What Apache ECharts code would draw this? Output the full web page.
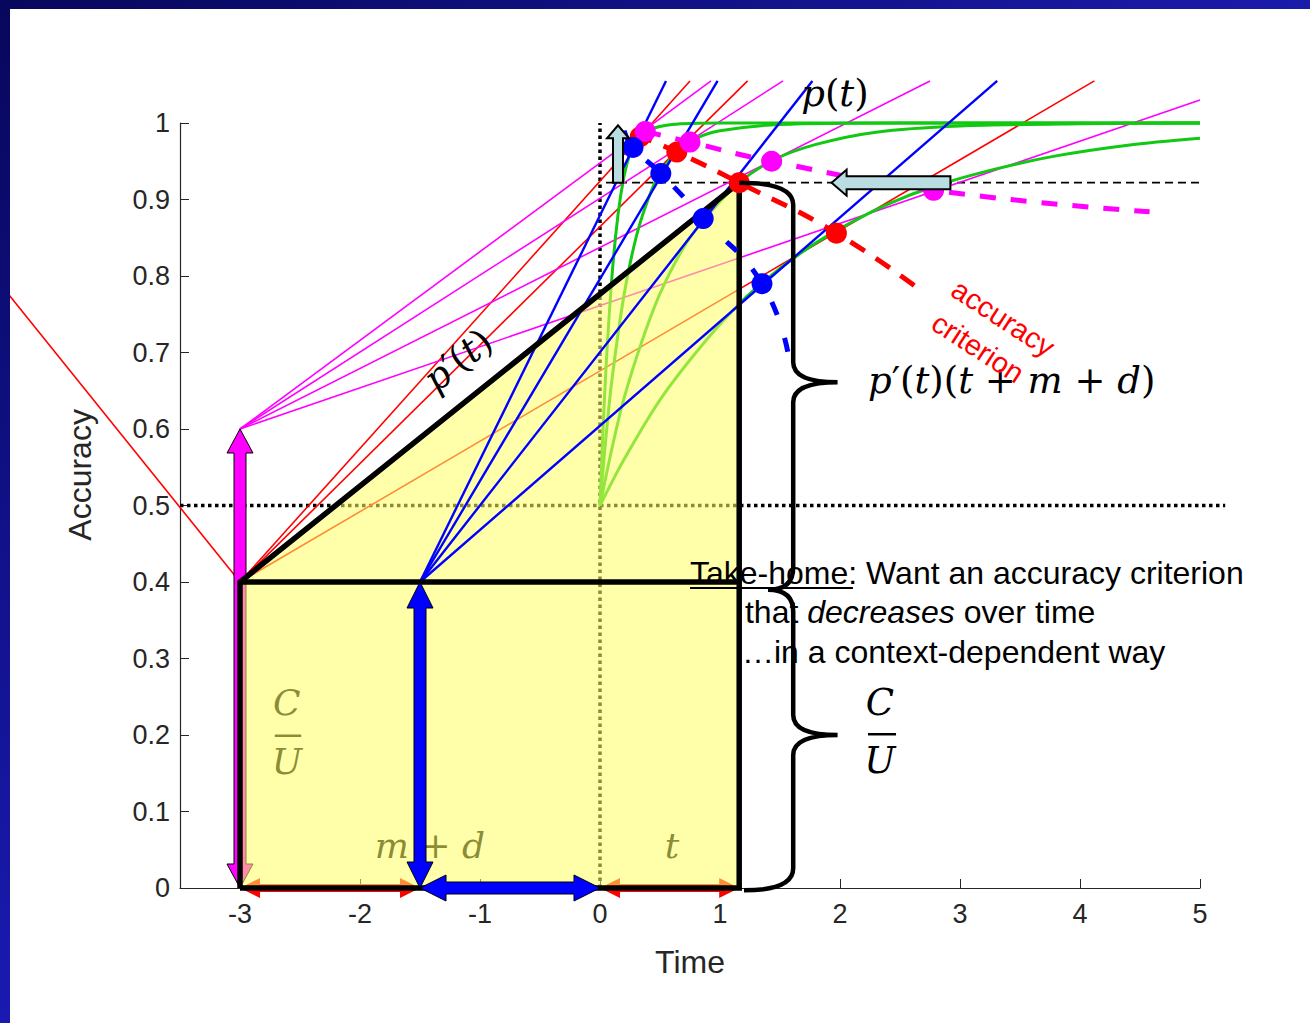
<!DOCTYPE html>
<html lang="en">
<head>
<meta charset="UTF-8">
<title>accuracy criterion</title>
<script src="https://cdn.jsdelivr.net/npm/echarts@6.0.0/dist/echarts.min.js"></script>
<style>
  html, body { margin: 0; padding: 0; background: #fff; }
  #main { width: 1310px; height: 1023px; }
</style>
</head>
<body>
<div id="main"></div>
<script>
// ---- values ----
var xTicks = [-3, -2, -1, 0, 1, 2, 3, 4, 5];
var yTicks = [0, 0.1, 0.2, 0.3, 0.4, 0.5, 0.6, 0.7, 0.8, 0.9, 1];

// accuracy curves p(t), all starting at chance (0, 0.5)
var curveFast = [[0, 0.5], [0.02, 0.58], [0.05, 0.68], [0.1, 0.8], [0.15, 0.88], [0.2, 0.93], [0.25, 0.96], [0.3, 0.975], [0.4, 0.99], [0.6, 0.998], [1, 1], [5, 1]];
var curveMid = [[0, 0.5], [0.05, 0.59], [0.1, 0.665], [0.2, 0.775], [0.3, 0.85], [0.4, 0.9], [0.5, 0.935], [0.65, 0.963], [0.8, 0.98], [1, 0.99], [1.5, 0.998], [2.5, 1], [5, 1]];
var curveSlow = [[0, 0.5], [0.1, 0.575], [0.2, 0.64], [0.35, 0.715], [0.5, 0.777], [0.7, 0.838], [0.88, 0.876], [1.16, 0.922], [1.45, 0.952], [1.8, 0.972], [2.3, 0.988], [3, 0.996], [4, 0.999], [5, 1]];
var curveSlowest = [[0, 0.5], [0.2, 0.56], [0.5, 0.638], [0.8, 0.7], [1.1, 0.754], [1.35, 0.791], [1.7, 0.833], [2, 0.862], [2.4, 0.894], [2.8, 0.918], [3.3, 0.94], [3.8, 0.957], [4.4, 0.971], [5, 0.98]];

// tangent lines: common start point and the far ends
var redFrom = [-3, 0.4];
var magentaFrom = [-3, 0.6];
var blueFrom = [-1.5, 0.4];
var redEnds = [[0.75, 1.055], [1.23, 1.055], [4.12, 1.055], [-5, 0.79]];
var magentaEnds = [[0.925, 1.055], [1.525, 1.055], [2.75, 1.055], [5, 1.03]];
var blueEnds = [[0.55, 1.055], [0.98, 1.055], [1.77, 1.055], [3.31, 1.055]];

// tangent points
var redDots = [[0.335, 0.982], [0.64, 0.962], [1.16, 0.922], [1.97, 0.856]];
var magentaDots = [[0.377, 0.989], [0.75, 0.975], [1.43, 0.95], [2.78, 0.912]];
var blueDots = [[0.275, 0.968], [0.507, 0.934], [0.86, 0.875], [1.35, 0.79]];

// accuracy criterion curves through the tangent points
var redCriterion = [[0.3, 0.985], [0.64, 0.962], [1.16, 0.922], [1.97, 0.856], [2.7, 0.778]];
var magentaCriterion = [[0.377, 0.989], [0.75, 0.975], [1.43, 0.95], [2.78, 0.912], [4.58, 0.884]];
var blueCriterion = [[0.2, 0.99], [0.275, 0.968], [0.507, 0.934], [0.86, 0.875], [1.35, 0.79], [1.57, 0.697]];

// cost triangle / rectangle
var costSlope = [[-3, 0.4], [1.16, 0.922]];
var costFrame = [[-3, 0], [-3, 0.4], [1.16, 0.922], [1.16, 0], [-3, 0]];
var costBase = [[-3, 0.4], [1.16, 0.4]];

var RED = '#ff0000', MAG = '#ff00ff', BLUE = '#0000ff', GREEN = '#12c812';
var AXIS = '#262626';
var MATH = "'DejaVu Serif', 'Liberation Serif', serif";
var SANS = "'Liberation Sans', Arial, sans-serif";

function plain(data, color, width, z, dash, smooth) {
  return {
    type: 'line', data: data, showSymbol: false, symbol: 'none', clip: false, silent: true,
    z: z, smooth: smooth || false, animation: false,
    lineStyle: { color: color, width: width, type: dash || 'solid', join: 'miter' }
  };
}

// straight segment that may run past the axis range
function segment(a, b, color, width, z, dash) {
  return {
    type: 'custom', coordinateSystem: 'cartesian2d', z: z, silent: true, animation: false,
    data: [[a[0], a[1], b[0], b[1]]],
    renderItem: function (params, api) {
      var p1 = api.coord([api.value(0), api.value(1)]);
      var p2 = api.coord([api.value(2), api.value(3)]);
      return {
        type: 'line', shape: { x1: p1[0], y1: p1[1], x2: p2[0], y2: p2[1] },
        style: { stroke: color, lineWidth: width, lineDash: dash || null }
      };
    }
  };
}

function dots(data, color, z) {
  return {
    type: 'scatter', data: data, symbolSize: 21, z: z, silent: true, clip: false, animation: false,
    itemStyle: { color: color, opacity: 1 }
  };
}

function arrow(from, to, color, shaft, head, headLen, both, z, stroke, strokeW) {
  return {
    type: 'custom', coordinateSystem: 'cartesian2d', z: z, silent: true, animation: false,
    data: [[from[0], from[1], to[0], to[1]]],
    renderItem: function (params, api) {
      var p1 = api.coord([api.value(0), api.value(1)]);
      var p2 = api.coord([api.value(2), api.value(3)]);
      var dx = p2[0] - p1[0], dy = p2[1] - p1[1];
      var len = Math.sqrt(dx * dx + dy * dy);
      var ux = dx / len, uy = dy / len, nx = -uy, ny = ux;
      function pt(b, a, s) { return [b[0] + ux * a + nx * s, b[1] + uy * a + ny * s]; }
      var pts;
      if (both) {
        pts = [p1, pt(p1, headLen, head), pt(p1, headLen, shaft), pt(p2, -headLen, shaft), pt(p2, -headLen, head), p2,
          pt(p2, -headLen, -head), pt(p2, -headLen, -shaft), pt(p1, headLen, -shaft), pt(p1, headLen, -head)];
      } else {
        pts = [pt(p1, 0, shaft), pt(p2, -headLen, shaft), pt(p2, -headLen, head), p2,
          pt(p2, -headLen, -head), pt(p2, -headLen, -shaft), pt(p1, 0, -shaft)];
      }
      return {
        type: 'polygon', shape: { points: pts },
        style: { fill: color, stroke: stroke || null, lineWidth: strokeW || 1 }
      };
    }
  };
}

// right curly brace from one end to the other, with its tip and spine
function brace(endA, endB, tip, spineX, z) {
  return {
    type: 'custom', coordinateSystem: 'cartesian2d', z: z, silent: true, animation: false,
    data: [[endA[0], endA[1], endB[0], endB[1], tip[0], tip[1], spineX]],
    renderItem: function (params, api) {
      var a = api.coord([api.value(0), api.value(1)]);
      var b = api.coord([api.value(2), api.value(3)]);
      var t = api.coord([api.value(4), api.value(5)]);
      var sx = api.coord([api.value(6), api.value(5)])[0];
      var r = 22, q = 20;
      var d = 'M' + a[0] + ',' + a[1] +
        ' Q' + sx + ',' + a[1] + ' ' + sx + ',' + (a[1] + r) +
        ' L' + sx + ',' + (t[1] - q) +
        ' Q' + sx + ',' + t[1] + ' ' + t[0] + ',' + t[1] +
        ' Q' + sx + ',' + t[1] + ' ' + sx + ',' + (t[1] + q) +
        ' L' + sx + ',' + (b[1] - r) +
        ' Q' + sx + ',' + b[1] + ' ' + b[0] + ',' + b[1];
      return {
        type: 'path', shape: { pathData: d },
        style: { fill: null, stroke: '#000', lineWidth: 4.5 }
      };
    }
  };
}

function note(at, text, style, rotate, z) {
  return {
    type: 'custom', coordinateSystem: 'cartesian2d', z: z || 20, silent: true, animation: false,
    data: [[at[0], at[1]]],
    renderItem: function (params, api) {
      var p = api.coord([api.value(0), api.value(1)]);
      return {
        type: 'text', x: p[0], y: p[1], rotation: (rotate || 0) * Math.PI / 180,
        style: Object.assign({ text: text, align: 'center', verticalAlign: 'middle' }, style)
      };
    }
  };
}

function mathStyle(size, color) {
  return {
    fontFamily: MATH, fontSize: size, fill: color || '#000',
    rich: { i: { fontFamily: MATH, fontSize: size, fontStyle: 'italic', fill: color || '#000' } }
  };
}

var series = [];

// dotted / dashed guides
series.push(segment([-3.5, 0.5], [5.21, 0.5], '#000', 3.5, 1, [3.5, 3.5]));
series.push(segment([0, 0], [0, 1], '#000', 3.5, 1, [3.5, 3.5]));
series.push(segment([0.05, 0.922], [5, 0.922], '#000', 1.6, 1, [8, 5]));

// accuracy curves
[curveFast, curveMid, curveSlow, curveSlowest].forEach(function (c) {
  series.push(plain(c, GREEN, 3, 2, 'solid', 0.3));
});

// red and magenta tangent lines (under the shaded region)
redEnds.forEach(function (e) { series.push(segment(redFrom, e, RED, 1.6, 2)); });
magentaEnds.forEach(function (e) { series.push(segment(magentaFrom, e, MAG, 1.6, 2)); });

// arrows lying under the shading
series.push(arrow([-3, 0], [-3, 0.6], MAG, 6, 13, 24, true, 2, '#000', 1));
series.push(arrow([-3, 0], [-1.5, 0], RED, 4, 10, 20, true, 2));
series.push(arrow([0, 0], [1.16, 0], RED, 4, 10, 20, true, 2));

// olive labels (black under the shading)
series.push(note([-2.61, 0.242], '{i|C}', mathStyle(36), 0, 2));
series.push(note([-2.61, 0.165], '{i|U}', mathStyle(36), 0, 2));
series.push(segment([-2.71, 0.199], [-2.49, 0.199], '#000', 2.5, 2));
series.push(note([-1.417, 0.056], '{i|m} + {i|d}', mathStyle(36), 0, 2));
series.push(note([0.6, 0.056], '{i|t}', mathStyle(36), 0, 2));

// shaded cost region
series.push({
  type: 'line', data: costSlope, showSymbol: false, symbol: 'none', z: 3, silent: true, animation: false,
  lineStyle: { width: 0 }, areaStyle: { color: 'rgba(255,255,100,0.55)', origin: 'start', opacity: 1 }
});

// blue tangent lines
blueEnds.forEach(function (e) { series.push(segment(blueFrom, e, BLUE, 2.4, 4)); });

// cost frame
series.push(plain(costFrame, '#000', 5.5, 5));
series.push(plain(costBase, '#000', 5.5, 5));

// criterion curves
series.push(plain(redCriterion, RED, 5, 6, [17, 13], true));
series.push(plain(magentaCriterion, MAG, 5, 6, [16, 15], true));
series.push(plain(blueCriterion, BLUE, 5, 6, [14, 24], true));

// tangent points
series.push(dots(redDots, RED, 7));
series.push(dots(magentaDots, MAG, 7));
series.push(dots(blueDots, BLUE, 7));

// arrows on top
series.push(arrow([-1.5, 0], [-1.5, 0.4], BLUE, 6, 13, 26, true, 8, '#000', 1));
series.push(arrow([-1.5, 0], [0, 0], BLUE, 6, 13, 26, true, 8, '#000', 1));
series.push(arrow([0.15, 0.922], [0.15, 0.997], '#b9dde1', 5, 11, 13, false, 8, '#000', 2));
series.push(arrow([2.92, 0.922], [1.93, 0.922], '#b9dde1', 6.5, 13, 15, false, 8, '#000', 2));

// braces
series.push(brace([1.16, 0.922], [1.4, 0.39], [1.98, 0.661], 1.61, 8));
series.push(brace([1.4, 0.39], [1.2, -0.003], [1.98, 0.2], 1.61, 8));

// labels
series.push(note([1.958, 1.039], '{i|p}({i|t})', mathStyle(37), 0));
series.push(note([-1.183, 0.69], '{i|p}′({i|t})', mathStyle(37), 38.8));
series.push(note([2.233, 0.664], '{i|p}′({i|t})({i|t} + {i|m} + {i|d})', Object.assign(mathStyle(37), { align: 'left' }), 0));
series.push(note([2.333, 0.242], '{i|C}', mathStyle(37), 0));
series.push(note([2.333, 0.167], '{i|U}', mathStyle(37), 0));
series.push(segment([2.233, 0.201], [2.467, 0.201], '#000', 2.5, 9));
series.push(note([3.36, 0.745], 'accuracy', { fontFamily: SANS, fontSize: 29, fill: RED }, -33));
series.push(note([3.15, 0.706], 'criterion', { fontFamily: SANS, fontSize: 29, fill: RED }, -33));
series.push(note([0.75, 0.412], 'Take-home: Want an accuracy criterion', { fontFamily: SANS, fontSize: 32, fill: '#000', align: 'left' }, 0));
series.push(segment([0.75, 0.392], [2.108, 0.392], '#000', 2, 9));
series.push(note([1.208, 0.361], 'that {it|decreases} over time', {
  fontFamily: SANS, fontSize: 32, fill: '#000', align: 'left',
  rich: { it: { fontFamily: SANS, fontSize: 32, fontStyle: 'italic', fill: '#000' } }
}, 0));
series.push(note([1.183, 0.308], '…in a context-dependent way', { fontFamily: SANS, fontSize: 32, fill: '#000', align: 'left' }, 0));
series.push(note([-4.333, 0.54], 'Accuracy', { fontFamily: SANS, fontSize: 32, fill: AXIS }, 90));

var chart = echarts.init(document.getElementById('main'), null, { renderer: 'svg' });
chart.setOption({
  animation: false,
  backgroundColor: '#fff',
  grid: { left: 180, right: 110, top: 123, bottom: 135, containLabel: false, outerBoundsMode: 'none' },
  xAxis: {
    type: 'value', min: -3.5, max: 5,
    name: 'Time', nameLocation: 'middle', nameGap: 58,
    nameTextStyle: { fontFamily: SANS, fontSize: 32, color: AXIS },
    axisLine: { onZero: false, lineStyle: { color: AXIS, width: 1.2 } },
    axisTick: { inside: true, length: 9, customValues: xTicks, lineStyle: { color: AXIS } },
    axisLabel: { customValues: xTicks, fontFamily: SANS, fontSize: 27, color: AXIS, margin: 12 },
    splitLine: { show: false }
  },
  yAxis: {
    type: 'value', min: 0, max: 1,
    axisLine: { show: true, onZero: false, lineStyle: { color: AXIS, width: 1.2 } },
    axisTick: { show: true, inside: true, length: 9, customValues: yTicks, lineStyle: { color: AXIS } },
    axisLabel: {
      customValues: yTicks, fontFamily: SANS, fontSize: 27, color: AXIS, margin: 10,
      formatter: function (v) { return String(+v.toFixed(1)); }
    },
    splitLine: { show: false }
  },
  graphic: [
    {
      type: 'rect', z: 100, shape: { x: 0, y: 0, width: 1310, height: 9 },
      style: { fill: new echarts.graphic.LinearGradient(0, 0, 1, 0, [{ offset: 0, color: '#07075c' }, { offset: 1, color: '#1b1bab' }]) }
    },
    {
      type: 'rect', z: 100, shape: { x: 0, y: 0, width: 10, height: 1023 },
      style: { fill: new echarts.graphic.LinearGradient(0, 0, 0, 1, [{ offset: 0, color: '#07075c' }, { offset: 1, color: '#1a1ab2' }]) }
    }
  ],
  series: series
});
</script>
</body>
</html>
